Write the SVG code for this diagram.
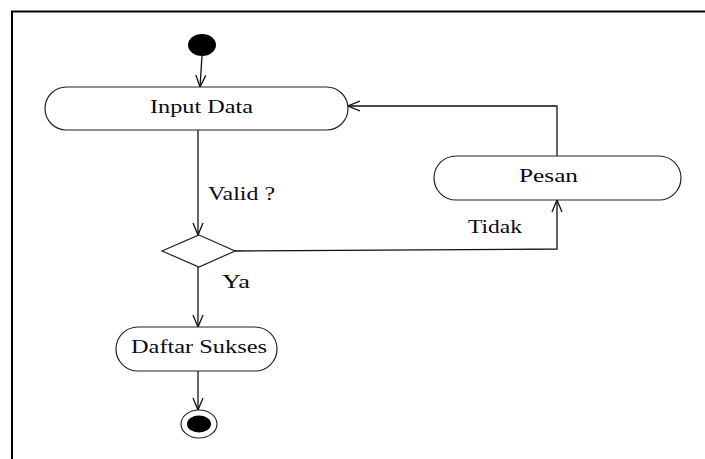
<svg xmlns="http://www.w3.org/2000/svg" width="705" height="459" viewBox="0 0 705 459">
  <style>
    .node { fill: #ffffff; stroke: #222222; stroke-width: 1.2; }
    .lbl { font-family: 'Liberation Serif', 'DejaVu Serif', serif; font-size: 19px; fill: #0a0a1a; }
    .edge { fill: none; stroke: #111111; stroke-width: 1.3; }
    .dot { fill: #000000; }
  </style>
  <defs>
    <marker id="arr" viewBox="0 0 12 12" refX="12" refY="6" markerWidth="12" markerHeight="12" markerUnits="userSpaceOnUse" orient="auto">
      <path d="M0,1 L12,6 L0,11" fill="none" stroke="#111111" stroke-width="1.3"/>
    </marker>
  </defs>
  <rect x="0" y="0" width="705" height="459" fill="#ffffff"/>
  <path d="M12,459 V11.5 H705" fill="none" stroke="#000000" stroke-width="2"/>

  <g id="connectors">
    <path class="edge" d="M202,56 L200,87" marker-end="url(#arr)"/>
    <path class="edge" d="M198,130 V235" marker-end="url(#arr)"/>
    <path class="edge" d="M198,267 V327" marker-end="url(#arr)"/>
    <path class="edge" d="M198,371 V410" marker-end="url(#arr)"/>
    <path class="edge" d="M235,251 L557,249 V200" marker-end="url(#arr)"/>
    <path class="edge" d="M557,156 V106 H348" marker-end="url(#arr)"/>
    <text class="lbl" font-family="Liberation Serif, serif" x="208" y="200" textLength="67" lengthAdjust="spacingAndGlyphs">Valid ?</text>
    <text class="lbl" font-family="Liberation Serif, serif" x="222" y="288" textLength="28" lengthAdjust="spacingAndGlyphs">Ya</text>
    <text class="lbl" font-family="Liberation Serif, serif" x="468" y="233" textLength="54" lengthAdjust="spacingAndGlyphs">Tidak</text>
  </g>

  <g id="start">
    <ellipse class="dot" cx="202" cy="45" rx="14" ry="11"/>
  </g>

  <g id="input-data">
    <rect class="node" x="45" y="87" width="303" height="43" rx="21.5" ry="21.5"/>
    <text class="lbl" font-family="Liberation Serif, serif" x="150" y="113" textLength="103" lengthAdjust="spacingAndGlyphs">Input Data</text>
  </g>

  <g id="decision">
    <polygon class="node" points="199,235 235,251 199,267 162,251"/>
  </g>

  <g id="pesan">
    <rect class="node" x="434" y="156" width="247" height="44" rx="22" ry="22"/>
    <text class="lbl" font-family="Liberation Serif, serif" x="519" y="182" textLength="59" lengthAdjust="spacingAndGlyphs">Pesan</text>
  </g>

  <g id="daftar-sukses">
    <rect class="node" x="116" y="327" width="161" height="44" rx="22" ry="22"/>
    <text class="lbl" font-family="Liberation Serif, serif" x="131" y="353" textLength="136" lengthAdjust="spacingAndGlyphs">Daftar Sukses</text>
  </g>

  <g id="end">
    <ellipse class="node" cx="199" cy="424" rx="18" ry="14"/>
    <ellipse class="dot" cx="199" cy="424" rx="12" ry="8.5"/>
  </g>
</svg>
